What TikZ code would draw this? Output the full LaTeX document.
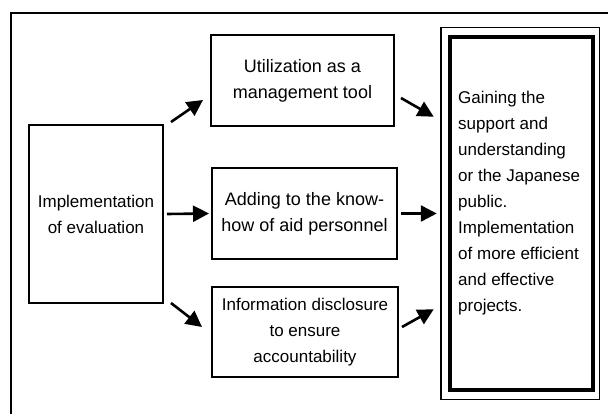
\documentclass[tikz,border=0pt]{standalone}
\usepackage{fontspec}
\setmainfont{Liberation Sans}
\usetikzlibrary{arrows.meta,calc}

\tikzset{
  box/.style={draw,line width=2pt,align=center,inner sep=0pt,
    font=\fontsize{17}{26}\selectfont},
  arr/.style={line width=2.6pt,-{Triangle[length=16pt,width=16pt]}},
}

\begin{document}
\begin{tikzpicture}[x=1pt,y=-1pt]

  \useasboundingbox (0,0) rectangle (608,414);
  \clip (0,0) rectangle (608,414);

  % outer frame (open to the right and below)
  \draw[line width=1.5pt] (11,13) rectangle (640,440);

  % boxes
  \node[box,minimum width=134pt,minimum height=178pt] (impl) at (96,214)
    {Implementation\\of evaluation};
  \node[box,minimum width=183pt,minimum height=91pt,
    font=\fontsize{18}{26}\selectfont] (tool) at (302.5,80.5)
    {Utilization as a\\management tool};
  \node[box,minimum width=185pt,minimum height=91pt,
    font=\fontsize{18}{26}\selectfont] (know) at (304.5,213.5)
    {Adding to the know-\\how of aid personnel};
  \node[box,minimum width=186pt,minimum height=90pt] (disc) at (305,332)
    {Information disclosure\\to ensure\\accountability};

  % goal box, thick line inside a thin one
  \node[draw,line width=4.5pt,minimum width=143pt,minimum height=353pt]
    (goal) at (521.5,213.5) {};
  \draw[line width=1.5pt] ($(goal.north west)+(-7,-7)$)
    rectangle ($(goal.south east)+(4,7)$);
  \node[anchor=north west,inner sep=0pt,align=left,
    font=\fontsize{17}{26}\selectfont] (goaltext) at (458,91)
    {Gaining the\\support and\\understanding\\or the Japanese\\public.\\%
     Implementation\\of more efficient\\and effective\\projects.};

  % arrows into the middle column
  \draw[arr] ($(impl.north east)+(7,-2)$) -- ($(tool.south west)+(-7,-27)$);
  \draw[arr] ([xshift=3pt]impl.east) -- ([xshift=-2pt]know.west);
  \draw[arr] ($(impl.south east)+(7,-1)$) -- ($(disc.north west)+(-9,41)$);

  % arrows into the goal box
  \draw[arr] ($(tool.east)+(6,17.5)$) -- ($(goal.north west)+(-14,82)$);
  \draw[arr] ([xshift=3pt]know.east) -- ([xshift=-11pt]goal.west);
  \draw[arr] ($(disc.east)+(3,-5)$) -- ($(goal.south west)+(-14,-83)$);
\end{tikzpicture}
\end{document}
